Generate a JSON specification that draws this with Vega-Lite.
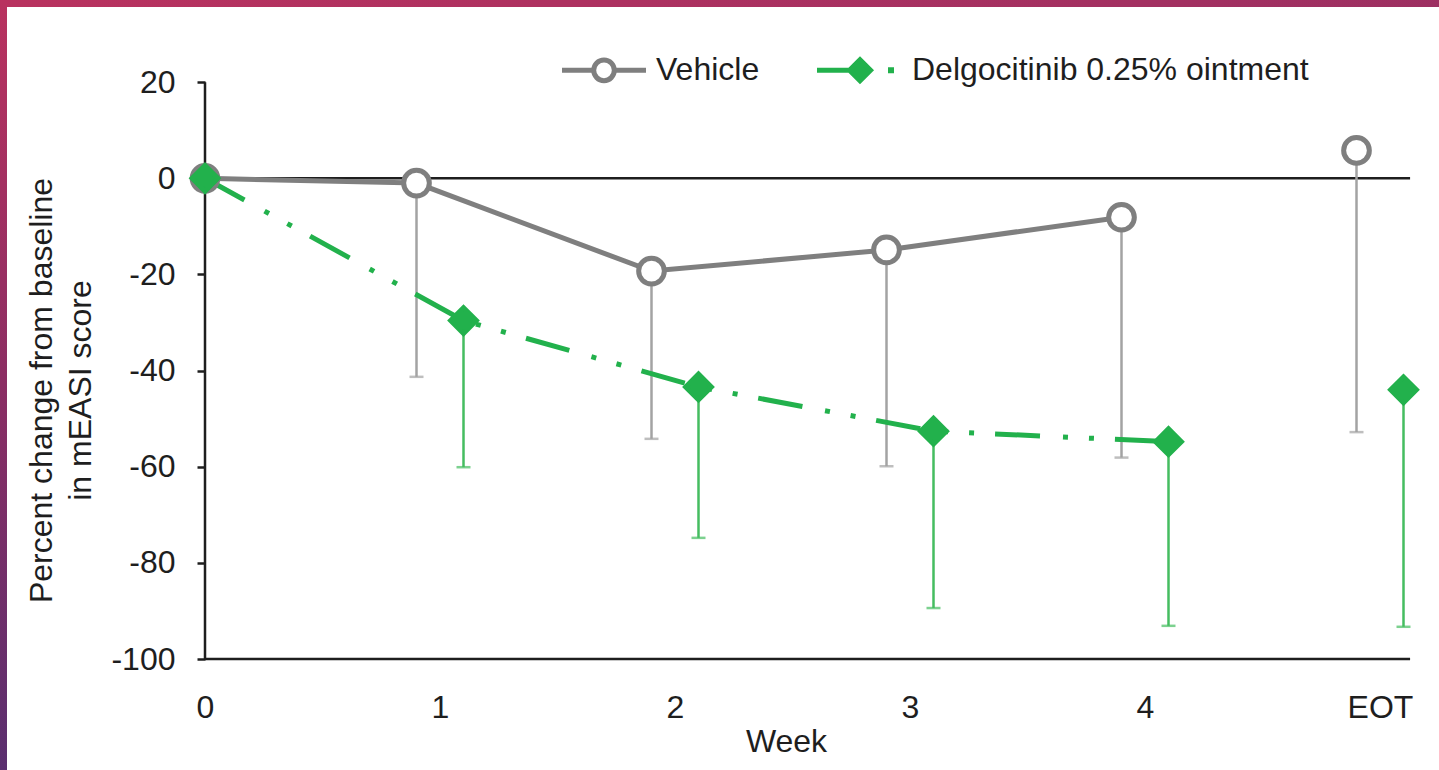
{
  "$schema": "https://vega.github.io/schema/vega-lite/v6.json",
  "width": 1439,
  "height": 770,
  "autosize": {"type": "none"},
  "padding": 0,
  "background": "#ffffff",
  "config": {
    "font": "Liberation Sans",
    "view": {
      "fill": "#ffffff",
      "stroke": {
        "gradient": "linear",
        "x1": 0, "y1": 0, "x2": 0.3, "y2": 1,
        "stops": [
          {"offset": 0, "color": "#b9325f"},
          {"offset": 0.45, "color": "#8c2e63"},
          {"offset": 1, "color": "#512f71"}
        ]
      },
      "strokeWidth": 14,
      "strokeDash": [1439, 2209, 770]
    },
    "axis": {
      "grid": false,
      "domain": false,
      "labelFont": "Liberation Sans",
      "titleFont": "Liberation Sans",
      "labelFontSize": 32,
      "titleFontSize": 32,
      "titleFontWeight": "normal",
      "labelColor": "#1e1e1e",
      "titleColor": "#1e1e1e",
      "tickColor": "#1e1e1e",
      "tickWidth": 2.5
    }
  },
  "datasets": {
    "scores": [
      {"group": "Vehicle", "week": 0, "mean": 0},
      {"group": "Vehicle", "week": 1, "mean": -1.0, "lower": -41.3},
      {"group": "Vehicle", "week": 2, "mean": -19.3, "lower": -54.2},
      {"group": "Vehicle", "week": 3, "mean": -14.9, "lower": -59.9},
      {"group": "Vehicle", "week": 4, "mean": -8.1, "lower": -58.1},
      {"group": "Vehicle", "week": 5, "mean": 5.8, "lower": -52.8},
      {"group": "Delgocitinib 0.25% ointment", "week": 0, "mean": 0},
      {"group": "Delgocitinib 0.25% ointment", "week": 1, "mean": -29.6, "lower": -60.1},
      {"group": "Delgocitinib 0.25% ointment", "week": 2, "mean": -43.4, "lower": -74.8},
      {"group": "Delgocitinib 0.25% ointment", "week": 3, "mean": -52.6, "lower": -89.4},
      {"group": "Delgocitinib 0.25% ointment", "week": 4, "mean": -54.8, "lower": -93.1},
      {"group": "Delgocitinib 0.25% ointment", "week": 5, "mean": -44.0, "lower": -93.3}
    ]
  },
  "data": {"name": "scores"},
  "transform": [
    {"calculate": "datum.week === 0 ? 0 : datum.week + (datum.group === 'Vehicle' ? -0.1 : 0.1)", "as": "pos"}
  ],
  "encoding": {
    "x": {
      "field": "pos",
      "type": "quantitative",
      "scale": {"domain": [-0.87234, 5.25106], "nice": false, "zero": false},
      "axis": {
        "orient": "bottom",
        "offset": -111,
        "values": [0, 1, 2, 3, 4, 5],
        "labelExpr": "datum.value == 5 ? 'EOT' : '' + datum.value",
        "ticks": false,
        "tickSize": 0,
        "labelPadding": 58,
        "labelBaseline": "alphabetic",
        "title": "Week",
        "titleX": 786,
        "titleY": 92,
        "titleAlign": "center",
        "titleBaseline": "alphabetic"
      }
    },
    "y": {
      "field": "mean",
      "type": "quantitative",
      "scale": {"domain": [-123.09, 37.09], "nice": false, "zero": false},
      "axis": {
        "orient": "left",
        "offset": -205,
        "values": [-100, -80, -60, -40, -20, 0, 20],
        "labelExpr": "'' + datum.value",
        "tickSize": 8,
        "labelPadding": 22,
        "title": ["Percent change from baseline", "in mEASI score"],
        "titleAngle": -90,
        "titleX": -154,
        "titleY": 390,
        "titleAlign": "center",
        "titleBaseline": "alphabetic",
        "titleLineHeight": 39
      }
    }
  },
  "layer": [
    {
      "transform": [{"filter": "datum.group === 'Vehicle' && datum.week === 0"}],
      "mark": {"type": "rule", "color": "#1e1e1e", "strokeWidth": 2.5},
      "encoding": {"x": {"datum": 0, "type": "quantitative"}, "y": {"datum": -100, "type": "quantitative"}, "y2": {"datum": 20}}
    },
    {
      "transform": [{"filter": "datum.group === 'Vehicle' && datum.week === 0"}],
      "mark": {"type": "rule", "color": "#1e1e1e", "strokeWidth": 2.5},
      "encoding": {"x": {"datum": 0, "type": "quantitative"}, "x2": {"datum": 5.128}, "y": {"datum": -100, "type": "quantitative"}}
    },
    {
      "transform": [{"filter": "datum.group === 'Vehicle' && datum.week === 0"}],
      "mark": {"type": "rule", "color": "#1e1e1e", "strokeWidth": 2.5},
      "encoding": {"x": {"datum": 0, "type": "quantitative"}, "x2": {"datum": 5.128}, "y": {"datum": 0, "type": "quantitative"}}
    },
    {
      "transform": [{"filter": "datum.group === 'Vehicle' && isValid(datum.lower)"}],
      "mark": {"type": "rule", "color": "#a3a3a3", "strokeWidth": 2.5},
      "encoding": {"y2": {"field": "lower"}}
    },
    {
      "transform": [{"filter": "datum.group === 'Vehicle' && isValid(datum.lower)"}],
      "mark": {"type": "tick", "orient": "horizontal", "color": "#a3a3a3", "size": 14, "thickness": 2.5},
      "encoding": {"y": {"field": "lower", "type": "quantitative"}}
    },
    {
      "transform": [{"filter": "datum.group === 'Vehicle' && datum.week < 5"}],
      "mark": {"type": "line", "color": "#7f7f7f", "strokeWidth": 5},
      "encoding": {"order": {"field": "week"}}
    },
    {
      "transform": [{"filter": "datum.group !== 'Vehicle' && isValid(datum.lower)"}],
      "mark": {"type": "rule", "color": "#45bd60", "strokeWidth": 2.5},
      "encoding": {"y2": {"field": "lower"}}
    },
    {
      "transform": [{"filter": "datum.group !== 'Vehicle' && isValid(datum.lower)"}],
      "mark": {"type": "tick", "orient": "horizontal", "color": "#45bd60", "size": 14, "thickness": 2.5},
      "encoding": {"y": {"field": "lower", "type": "quantitative"}}
    },
    {
      "transform": [{"filter": "datum.group !== 'Vehicle' && datum.week < 5"}],
      "mark": {"type": "line", "color": "#22b14c", "strokeWidth": 5, "strokeDash": [45, 23, 5, 21, 5, 21]},
      "encoding": {"order": {"field": "week"}}
    },
    {
      "mark": {"type": "point", "filled": true, "strokeWidth": 5, "opacity": 1, "size": 660},
      "encoding": {
        "fill": {"condition": {"test": "datum.group === 'Vehicle'", "value": "#ffffff"}, "value": "#22b14c"},
        "stroke": {"condition": {"test": "datum.group === 'Vehicle'", "value": "#7f7f7f"}, "value": "#22b14c"},
        "shape": {"condition": {"test": "datum.group === 'Vehicle'", "value": "circle"}, "value": "diamond"}
      }
    },
    {
      "transform": [{"filter": "false"}],
      "mark": {"type": "point", "filled": true, "strokeWidth": 5, "opacity": 1, "size": 400},
      "encoding": {
        "fill": {
          "field": "group",
          "type": "nominal",
          "scale": {"domain": ["Vehicle", "Delgocitinib 0.25% ointment"], "range": ["#ffffff", "#22b14c"]},
          "legend": {
            "orient": "none",
            "legendX": 588,
            "legendY": 54,
            "direction": "horizontal",
            "title": null,
            "padding": 0,
            "labelFont": "Liberation Sans",
            "labelFontSize": 32,
            "labelColor": "#1e1e1e",
            "labelLimit": 1000,
            "symbolSize": 400,
            "symbolStrokeWidth": 5,
            "labelOffset": 36,
            "columnPadding": 47
          }
        },
        "stroke": {
          "field": "group",
          "type": "nominal",
          "scale": {"domain": ["Vehicle", "Delgocitinib 0.25% ointment"], "range": ["#7f7f7f", "#22b14c"]}
        },
        "shape": {
          "field": "group",
          "type": "nominal",
          "scale": {
            "domain": ["Vehicle", "Delgocitinib 0.25% ointment"],
            "range": [
              "M-4.2,0L-1.03,0M1.03,0L4.2,0M1.03,0A1.03,1.03,0,1,1,-1.03,0A1.03,1.03,0,1,1,1.03,0Z",
              "M-4.3,0L-1.05,0M-1.05,0L0,-1.05L1.05,0L0,1.05ZM3.05,-0.05L3.15,-0.05L3.15,0.05L3.05,0.05Z"
            ]
          }
        }
      }
    }
  ]
}
